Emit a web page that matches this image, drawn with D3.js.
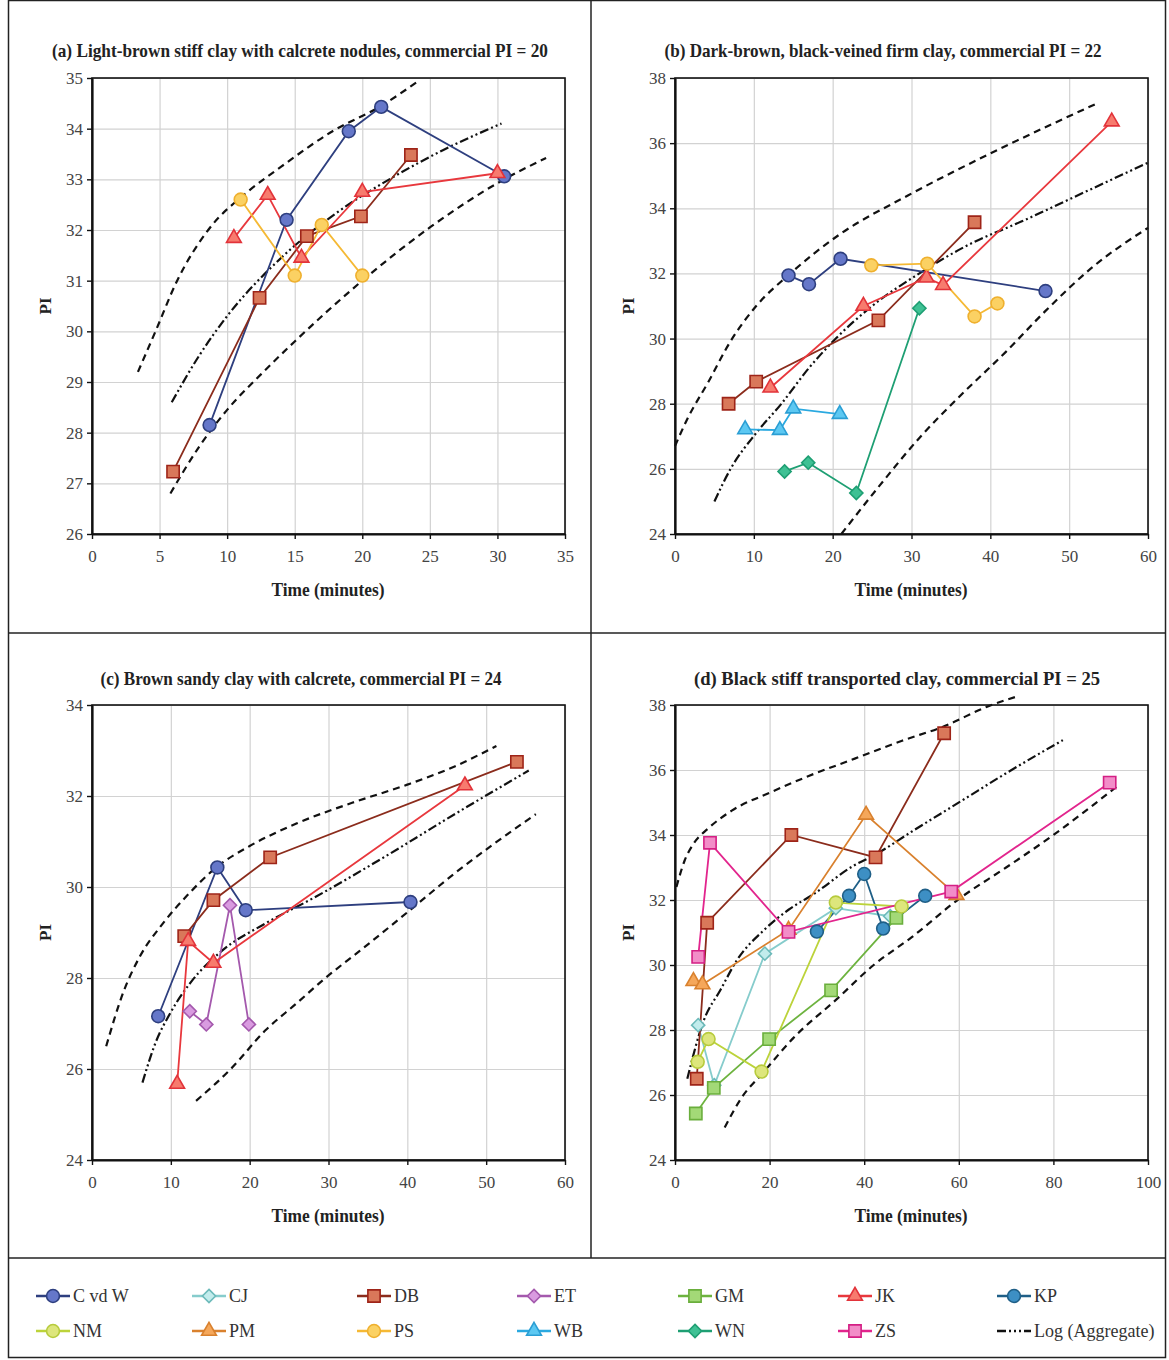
<!DOCTYPE html>
<html>
<head>
<meta charset="utf-8">
<script src="https://cdn.jsdelivr.net/npm/d3@7"></script>
<style>
  body { margin: 0; background: #fff; }
  text { font-family: "Liberation Serif", "DejaVu Serif", serif; }
</style>
</head>
<body>
<svg id="chart" width="1169" height="1360"></svg>
<script>
// legend order
const seriesNames = ["C vd W", "CJ", "DB", "ET", "GM", "JK", "KP", "NM", "PM", "PS", "WB", "WN", "ZS"];

// (a) readings as [time (min), PI]
const aSeries = {
  "C vd W": [[8.7, 28.15], [14.4, 32.2], [19.0, 33.95], [21.4, 34.43], [30.5, 33.06]],
  DB: [[6.0, 27.23], [12.4, 30.66], [15.9, 31.88], [19.9, 32.27], [23.6, 33.48]],
  JK: [[10.5, 31.84], [13.0, 32.69], [15.5, 31.45], [20.0, 32.75], [30.0, 33.12]],
  PS: [[11.0, 32.6], [15.0, 31.1], [17.0, 32.1], [20.0, 31.1]]
};
const aUpper = [[3.4, 29.2], [4.7, 30.0], [6.3, 31.0], [8.6, 32.0], [11.5, 32.75], [14, 33.25], [17.8, 33.95], [21.4, 34.45], [24.2, 34.95]];
const aAggregate = [[5.9, 28.6], [8, 29.55], [10, 30.3], [14, 31.45], [18, 32.32], [22, 33.0], [26, 33.58], [30.3, 34.1]];
const aLower = [[5.8, 26.8], [8, 27.75], [10, 28.45], [12.5, 29.15], [15, 29.8], [20, 31.0], [25, 32.05], [30.5, 33.0], [33.6, 33.42]];

// (b)
const bSeries = {
  "C vd W": [[14.4, 31.94], [17.0, 31.67], [21.0, 32.45], [47.0, 31.46]],
  DB: [[6.8, 28.0], [10.3, 28.68], [25.8, 30.56], [38.0, 33.57]],
  JK: [[12.1, 28.49], [23.9, 31.0], [31.9, 31.87], [34.0, 31.64], [55.4, 36.66]],
  PS: [[24.9, 32.25], [32.0, 32.3], [38.0, 30.68], [40.9, 31.08]],
  WB: [[8.9, 27.21], [13.3, 27.19], [15.0, 27.85], [20.9, 27.68]],
  WN: [[13.9, 25.92], [16.9, 26.19], [23.0, 25.26], [31.0, 30.93]]
};
const bUpper = [[0, 26.7], [1.5, 27.5], [4.3, 28.7], [7, 29.9], [10.3, 31.0], [14.4, 31.95], [20.9, 33.2], [29.6, 34.4], [41, 35.8], [53.8, 37.25]];
const bAggregate = [[5.0, 25.0], [7.05, 26.0], [10.3, 27.1], [13.5, 28.0], [17, 29.1], [20.4, 30.0], [25, 31.0], [31, 32.0], [37, 32.85], [44, 33.6], [52, 34.5], [60, 35.4]];
const bLower = [[21.1, 24.0], [26, 25.5], [31, 26.95], [36, 28.2], [42, 29.6], [47, 30.85], [53, 32.2], [60, 33.4]];

// (c)
const cSeries = {
  "C vd W": [[8.4, 27.16], [15.9, 30.43], [19.5, 29.49], [40.4, 29.67]],
  DB: [[11.7, 28.92], [15.4, 29.71], [22.6, 30.65], [53.9, 32.75]],
  ET: [[12.4, 27.27], [14.5, 26.98], [17.5, 29.6], [19.9, 26.98]],
  JK: [[10.8, 25.67], [12.2, 28.81], [15.4, 28.33], [47.3, 32.23]]
};
const cUpper = [[1.8, 26.5], [4, 27.7], [6, 28.45], [9, 29.2], [12, 29.8], [15.9, 30.45], [20, 30.9], [26, 31.4], [33, 31.85], [40, 32.25], [46, 32.65], [51.3, 33.1]];
const cAggregate = [[6.4, 25.7], [8, 26.55], [10, 27.25], [12.5, 27.9], [16.5, 28.6], [22, 29.2], [28, 29.75], [37, 30.65], [46, 31.6], [55.4, 32.56]];
const cLower = [[13.2, 25.3], [17.6, 26.0], [22, 26.85], [26, 27.45], [29.6, 28.0], [34, 28.6], [40.4, 29.5], [46, 30.3], [51, 30.95], [56.3, 31.6]];

// (d)
const dSeries = {
  CJ: [[4.9, 28.15], [8.3, 26.3], [19.0, 30.35], [34.0, 31.75], [45.5, 31.5]],
  DB: [[4.6, 26.5], [6.8, 31.3], [24.6, 34.0], [42.4, 33.31], [56.9, 37.13]],
  GM: [[4.4, 25.43], [8.2, 26.22], [19.9, 27.72], [33.0, 29.22], [46.8, 31.45]],
  KP: [[30.0, 31.03], [36.8, 32.13], [40.0, 32.8], [44.0, 31.12], [52.9, 32.13]],
  NM: [[4.8, 27.02], [7.1, 27.72], [18.3, 26.72], [34.0, 31.92], [47.9, 31.8]],
  PM: [[3.9, 29.5], [5.8, 29.4], [24.0, 31.08], [40.4, 34.62], [59.5, 32.15]],
  ZS: [[4.9, 30.25], [7.4, 33.76], [24.0, 31.02], [58.4, 32.26], [91.9, 35.61]]
};
const dUpper = [[0.3, 32.4], [2, 33.2], [4, 33.75], [7, 34.2], [12, 34.75], [20, 35.3], [28, 35.8], [38, 36.35], [48, 36.9], [57, 37.35], [66, 37.95], [72, 38.25]];
const dAggregate = [[2.6, 26.5], [6.1, 28.3], [9.6, 29.23], [13.1, 30.15], [18.7, 31.06], [24, 31.7], [29.3, 32.18], [37.7, 33.05], [42.4, 33.4], [50, 34.1], [60.9, 35.08], [70, 35.9], [82, 36.92]];
const dLower = [[10.5, 25.0], [14, 25.9], [18.7, 26.7], [25, 27.75], [34.2, 28.95], [42, 30.0], [50, 30.85], [60, 32.03], [70, 33.0], [80, 34.0], [93.9, 35.55]];

// tick values
const xTicksA = [0, 5, 10, 15, 20, 25, 30, 35];
const yTicksA = [26, 27, 28, 29, 30, 31, 32, 33, 34, 35];
const xTicks60 = [0, 10, 20, 30, 40, 50, 60];
const xTicksD = [0, 20, 40, 60, 80, 100];
const yTicksB = [24, 26, 28, 30, 32, 34, 36, 38];
const yTicksC = [24, 26, 28, 30, 32, 34];

const titles = [
  "(a) Light-brown stiff clay with calcrete nodules, commercial PI = 20",
  "(b) Dark-brown, black-veined firm clay, commercial PI = 22",
  "(c) Brown sandy clay with calcrete, commercial PI = 24",
  "(d) Black stiff transported clay, commercial PI = 25"
];

// marker / line styling per series
const styleOf = {
  "C vd W": { line: "#2e3f7f", fill: "#6577c9", stroke: "#2e3f7f", shape: d3.symbolCircle, size: 130 },
  CJ: { line: "#86cccc", fill: "#c2ecec", stroke: "#6cbaba", shape: d3.symbolDiamond2, size: 110 },
  DB: { line: "#8b2c1c", fill: "#d9785a", stroke: "#9e2418", shape: d3.symbolSquare, size: 150 },
  ET: { line: "#a459ad", fill: "#d99be0", stroke: "#a459ad", shape: d3.symbolDiamond2, size: 110 },
  GM: { line: "#6db33f", fill: "#a3d977", stroke: "#6aae3c", shape: d3.symbolSquare, size: 150 },
  JK: { line: "#e8383d", fill: "#f77b6e", stroke: "#e2333a", shape: d3.symbolTriangle, size: 95 },
  KP: { line: "#1f5f87", fill: "#3d8fc4", stroke: "#1f5f87", shape: d3.symbolCircle, size: 130 },
  NM: { line: "#bcd33a", fill: "#dde67c", stroke: "#b7cb3c", shape: d3.symbolCircle, size: 130 },
  PM: { line: "#d9812e", fill: "#f5a75a", stroke: "#d9812e", shape: d3.symbolTriangle, size: 95 },
  PS: { line: "#f5b935", fill: "#fbd163", stroke: "#efb02e", shape: d3.symbolCircle, size: 130 },
  WB: { line: "#2aa9e0", fill: "#5cc8f2", stroke: "#2a9ed4", shape: d3.symbolTriangle, size: 95 },
  WN: { line: "#1e9f73", fill: "#3fc194", stroke: "#1e9f73", shape: d3.symbolDiamond2, size: 110 },
  ZS: { line: "#e2258d", fill: "#f28dc8", stroke: "#d41f84", shape: d3.symbolSquare, size: 150 }
};

const svg = d3.select("#chart");

const panels = [
  { left: 92, right: 565, top: 78, bottom: 534, xDomain: [0, 35], yDomain: [26, 35], xTicks: xTicksA, yTicks: yTicksA,
    title: titles[0], titleX: 300, titleY: 57, titleW: 496, labelX: 328, series: aSeries, upper: aUpper, agg: aAggregate, lower: aLower },
  { left: 675, right: 1148, top: 78, bottom: 534, xDomain: [0, 60], yDomain: [24, 38], xTicks: xTicks60, yTicks: yTicksB,
    title: titles[1], titleX: 883, titleY: 57, titleW: 437, labelX: 911, series: bSeries, upper: bUpper, agg: bAggregate, lower: bLower },
  { left: 92, right: 565, top: 705, bottom: 1160, xDomain: [0, 60], yDomain: [24, 34], xTicks: xTicks60, yTicks: yTicksC,
    title: titles[2], titleX: 301, titleY: 685, titleW: 401, labelX: 328, series: cSeries, upper: cUpper, agg: cAggregate, lower: cLower },
  { left: 675, right: 1148, top: 705, bottom: 1160, xDomain: [0, 100], yDomain: [24, 38], xTicks: xTicksD, yTicks: yTicksB,
    title: titles[3], titleX: 897, titleY: 685, titleW: 406, labelX: 911, series: dSeries, upper: dUpper, agg: dAggregate, lower: dLower }
];

// outer frame and cell dividers
const frame = svg.append("g").attr("stroke", "#222").attr("stroke-width", 1.5).attr("fill", "none");
frame.append("rect").attr("x", 8.5).attr("y", 0.5).attr("width", 1157).attr("height", 1357);
frame.append("line").attr("x1", 591).attr("x2", 591).attr("y1", 0).attr("y2", 1258);
frame.append("line").attr("x1", 8).attr("x2", 1166).attr("y1", 633).attr("y2", 633);
frame.append("line").attr("x1", 8).attr("x2", 1166).attr("y1", 1258).attr("y2", 1258);

const drawPanel = (p) => {
  const g = svg.append("g");
  const x = d3.scaleLinear().domain(p.xDomain).range([p.left, p.right]);
  const y = d3.scaleLinear().domain(p.yDomain).range([p.bottom, p.top]);

  // gridlines
  g.append("g")
    .attr("transform", `translate(0,${p.bottom})`)
    .call(d3.axisBottom(x).tickValues(p.xTicks).tickSize(-(p.bottom - p.top)).tickFormat(""))
    .call((a) => a.select(".domain").remove())
    .selectAll("line").attr("stroke", "#d2d2d2").attr("stroke-width", 1.2);
  g.append("g")
    .attr("transform", `translate(${p.left},0)`)
    .call(d3.axisLeft(y).tickValues(p.yTicks).tickSize(-(p.right - p.left)).tickFormat(""))
    .call((a) => a.select(".domain").remove())
    .selectAll("line").attr("stroke", "#d2d2d2").attr("stroke-width", 1.2);

  // plot frame
  g.append("rect")
    .attr("x", p.left).attr("y", p.top)
    .attr("width", p.right - p.left).attr("height", p.bottom - p.top)
    .attr("fill", "none").attr("stroke", "#111").attr("stroke-width", 1.6);

  // log envelope + aggregate curves
  const curve = d3.line().x((d) => x(d[0])).y((d) => y(d[1])).curve(d3.curveMonotoneX);
  [p.upper, p.lower].forEach((band) => {
    g.append("path").attr("d", curve(band))
      .attr("fill", "none").attr("stroke", "#111").attr("stroke-width", 2.2)
      .attr("stroke-dasharray", "7,5");
  });
  g.append("path").attr("d", curve(p.agg))
    .attr("fill", "none").attr("stroke", "#111").attr("stroke-width", 2.2)
    .attr("stroke-dasharray", "9,3,2,3,2,3");

  // series lines
  const line = d3.line().x((d) => x(d[0])).y((d) => y(d[1]));
  const names = seriesNames.filter((n) => p.series[n]);
  names.forEach((n) => {
    g.append("path").attr("d", line(p.series[n]))
      .attr("fill", "none").attr("stroke", styleOf[n].line).attr("stroke-width", 1.8);
  });
  // markers
  names.forEach((n) => {
    const s = styleOf[n];
    g.append("g").selectAll("path").data(p.series[n]).join("path")
      .attr("d", d3.symbol(s.shape, s.size)())
      .attr("transform", (d) => `translate(${x(d[0])},${y(d[1])})`)
      .attr("fill", s.fill).attr("stroke", s.stroke).attr("stroke-width", 1.6);
  });

  // axes
  const xa = g.append("g")
    .attr("transform", `translate(0,${p.bottom})`)
    .call(d3.axisBottom(x).tickValues(p.xTicks).tickSize(5).tickSizeOuter(0).tickPadding(11));
  const ya = g.append("g")
    .attr("transform", `translate(${p.left},0)`)
    .call(d3.axisLeft(y).tickValues(p.yTicks).tickSize(5).tickSizeOuter(0).tickPadding(4));
  [xa, ya].forEach((a) => {
    a.select(".domain").attr("stroke", "#111").attr("stroke-width", 2.2);
    a.selectAll(".tick line").attr("stroke", "#111").attr("stroke-width", 1.4);
    a.selectAll("text").attr("font-size", 17).attr("fill", "#444")
      .attr("font-family", '"Liberation Serif", serif');
  });

  // title and axis labels
  g.append("text").attr("x", p.titleX).attr("y", p.titleY)
    .attr("text-anchor", "middle").attr("font-size", 19).attr("font-weight", "bold").attr("fill", "#222")
    .attr("textLength", p.titleW).attr("lengthAdjust", "spacingAndGlyphs")
    .text(p.title);
  g.append("text").attr("x", p.labelX).attr("y", p.bottom + 62)
    .attr("text-anchor", "middle").attr("font-size", 18).attr("font-weight", "bold").attr("fill", "#222")
    .attr("textLength", 113).attr("lengthAdjust", "spacingAndGlyphs")
    .text("Time (minutes)");
  const midY = (p.top + p.bottom) / 2;
  g.append("text")
    .attr("transform", `translate(${p.left - 41},${midY}) rotate(-90)`)
    .attr("text-anchor", "middle").attr("font-size", 17).attr("font-weight", "bold").attr("fill", "#222")
    .text("PI");
};

panels.forEach(drawPanel);

// legend
const legendCols = [36, 192, 357, 517, 678, 838, 997];
const legendRows = [1296, 1331];
const legendItems = seriesNames.concat(["Log (Aggregate)"]);
legendItems.forEach((n, i) => {
  const lx = legendCols[i % 7];
  const ly = legendRows[Math.floor(i / 7)];
  const g = svg.append("g");
  if (n === "Log (Aggregate)") {
    g.append("line").attr("x1", lx).attr("x2", lx + 34).attr("y1", ly).attr("y2", ly)
      .attr("stroke", "#111").attr("stroke-width", 2.4).attr("stroke-dasharray", "9,3,2,3,2,3,2,3");
  } else {
    const s = styleOf[n];
    g.append("line").attr("x1", lx).attr("x2", lx + 34).attr("y1", ly).attr("y2", ly)
      .attr("stroke", s.line).attr("stroke-width", 2.6);
    g.append("path").attr("d", d3.symbol(s.shape, s.size)())
      .attr("transform", `translate(${lx + 17},${ly})`)
      .attr("fill", s.fill).attr("stroke", s.stroke).attr("stroke-width", 1.6);
  }
  g.append("text").attr("x", lx + 37).attr("y", ly + 6)
    .attr("font-size", 18).attr("fill", "#333").text(n);
});
</script>
</body>
</html>
